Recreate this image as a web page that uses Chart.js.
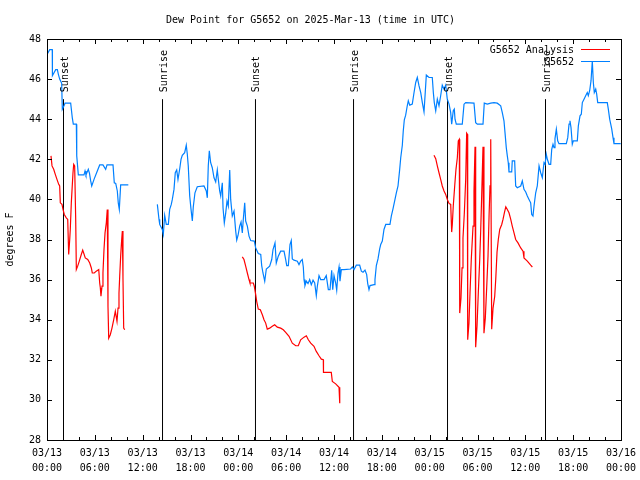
<!DOCTYPE html>
<html>
<head>
<meta charset="utf-8">
<title>Dew Point for G5652</title>
<script src="https://cdn.jsdelivr.net/npm/chart.js@4.4.1/dist/chart.umd.min.js"></script>
<style>
  html, body { margin: 0; padding: 0; background: #fff; }
</style>
</head>
<body>
<canvas id="myChart" width="640" height="480"></canvas>
<script>
// x axis is hours since 2025-03-13 00:00 UTC
const dayLabels  = ['03/13', '03/13', '03/13', '03/13', '03/14', '03/14', '03/14', '03/14', '03/15', '03/15', '03/15', '03/15', '03/16'];
const timeLabels = ['00:00', '06:00', '12:00', '18:00', '00:00', '06:00', '12:00', '18:00', '00:00', '06:00', '12:00', '18:00', '00:00'];

const sunTimes  = [2.07, 14.49, 26.15, 38.45, 50.24, 62.53];
const sunLabels = ['Sunset', 'Sunrise', 'Sunset', 'Sunrise', 'Sunset', 'Sunrise'];
const sunLineTop = 45.0;

// G5652 observations (null = no data)
const obsHours = [
  0.04, 0.34, 0.66, 0.68, 1.09, 1.30, 1.42, 1.59, 1.84, 1.92, 2.13, 2.26, 2.97, 3.17, 3.30, 3.68, 3.73, 3.93,
  4.64, 4.77, 4.89, 5.18, 5.33, 5.48, 5.61, 5.90, 6.31, 6.61, 7.02, 7.36, 7.53, 8.28, 8.44, 8.62, 8.82, 8.94,
  9.07, 9.24, 10.20, 12.00,
  13.84, 14.05, 14.14, 14.46, 14.59, 14.76, 14.96, 15.22, 15.39, 15.59, 15.72, 15.93, 16.09, 16.27, 16.43,
  16.65, 16.81, 16.97, 17.27, 17.47, 17.60, 17.72, 17.90, 18.06, 18.23, 18.35, 18.56, 18.85, 19.69, 19.98,
  20.11, 20.23, 20.36, 20.53, 20.73, 20.95, 21.16, 21.36, 21.49, 21.66, 21.79, 21.99, 22.08, 22.24, 22.42,
  22.58, 22.74, 22.92, 23.04, 23.24, 23.46, 23.67, 23.80, 23.96, 24.17, 24.34, 24.50, 24.62, 24.80, 24.92,
  25.13, 25.34, 25.55, 26.00, 26.18, 26.50, 26.81, 26.93, 27.09, 27.31, 27.51, 27.93, 28.19, 28.35, 28.60,
  28.76, 29.01, 29.31, 29.73, 29.94, 30.07, 30.27, 30.48, 30.64, 30.77, 30.98, 31.40, 31.61, 31.82, 32.02,
  32.15, 32.24, 32.36, 32.53, 32.74, 32.95, 33.15, 33.37, 33.58, 33.78, 33.91, 34.12, 34.33, 34.75, 35.03,
  35.29, 35.50, 35.71, 35.84, 36.00, 36.21, 36.34, 36.50, 36.63, 36.75, 36.92, 37.25, 38.09, 38.30, 38.51,
  38.80, 39.22, 39.43, 39.64, 39.89, 40.10, 40.23, 40.39, 40.52, 41.02, 41.14, 41.31, 41.52, 41.73, 41.86,
  42.06, 42.27, 42.49, 43.02, 43.19, 43.40, 43.65, 43.82, 44.03, 44.24, 44.37, 44.57, 44.69, 44.82, 44.99,
  45.19, 45.32, 45.50, 45.82, 46.04, 46.25, 46.45, 46.66, 46.88, 47.08, 47.29, 47.42, 47.58, 47.92, 48.33,
  48.46, 48.58, 48.76, 48.96, 49.17, 49.38, 49.58, 49.80, 50.01, 50.21, 50.43, 50.64, 50.76, 50.96, 51.09,
  51.18, 51.34, 52.09, 52.31, 52.52, 53.56, 53.77, 53.98, 54.69, 54.85, 55.23, 55.66, 56.07, 56.48, 56.91,
  57.11, 57.32, 57.45, 57.61, 57.74, 57.86, 57.95, 58.29, 58.36, 58.66, 58.79, 58.99, 59.42, 59.62, 59.83,
  60.05, 60.25, 60.46, 60.67, 60.80, 60.96, 61.09, 61.30, 61.50, 61.72, 61.93, 62.13, 62.34, 62.47, 62.63,
  62.76, 62.97, 63.18, 63.31, 63.47, 63.60, 63.72, 63.89, 64.06, 64.22, 65.14, 65.32, 65.48, 65.60, 65.73,
  65.89, 66.02, 66.52, 66.65, 66.86, 67.02, 67.15, 67.36, 67.57, 67.77, 67.90, 68.07, 68.24, 68.40, 68.53,
  68.65, 68.83, 68.95, 69.08, 70.28, 70.41, 70.58, 70.83, 71.00, 71.12, 71.96
];
const obsTemps = [
  47.25, 47.47, 47.47, 46.17, 46.47, 46.47, 46.25, 46.00, 45.80, 44.50, 44.67, 44.80, 44.80, 44.08, 43.75, 43.75, 42.17, 41.22,
  41.22, 41.42, 41.22, 41.50, 41.30, 40.92, 40.67, 41.00, 41.42, 41.72, 41.72, 41.50, 41.72, 41.72, 40.83, 40.80, 40.42, 39.83,
  39.50, 40.72, 40.72, null,
  39.75, 39.00, 38.75, 38.50, 38.25, 39.20, 38.75, 38.75, 39.50, 39.75, 40.00, 40.50, 41.33, 41.47, 41.00,
  41.53, 42.00, 42.20, 42.33, 42.70, 42.25, 41.67, 40.17, 39.53, 38.92, 39.63, 40.33, 40.63, 40.67, 40.42,
  40.08, 41.67, 42.42, 41.83, 41.58, 41.08, 40.87, 41.47, 41.00, 40.42, 40.17, 40.83, 39.58, 38.83, 39.33,
  39.92, 39.67, 41.47, 40.00, 39.17, 39.42, 38.42, 37.97, 38.20, 38.67, 38.87, 38.33, 39.00, 39.83, 38.92,
  38.67, 38.17, 37.95, 37.92, 37.58, 37.30, 37.25, 36.70, 36.33, 35.92, 36.53, 36.67, 37.00, 37.50, 37.83,
  36.83, 37.17, 37.42, 37.42, 37.00, 36.70, 36.70, 37.75, 37.95, 37.03, 36.97, 36.92, 36.75, 36.92, 37.00,
  36.63, 36.00, 35.70, 35.92, 35.80, 36.00, 35.75, 35.97, 35.83, 35.20, 35.67, 36.20, 36.00, 36.00, 36.20,
  35.50, 35.50, 36.47, 35.50, 36.20, 35.83, 35.47, 36.33, 36.63, 35.92, 36.50, 36.50, 36.53, 36.63, 36.50,
  36.72, 36.72, 36.42, 36.37, 36.47, 36.25, 35.80, 35.50, 35.70, 35.75, 36.00, 36.70, 37.03, 37.53, 37.75,
  37.92, 38.50, 38.75, 38.75, 39.17, 39.53, 40.00, 40.33, 40.67, 41.50, 42.08, 42.70, 43.42, 43.97, 44.20,
  44.67, 44.92, 44.70, 44.75, 45.33, 45.83, 46.08, 45.67, 45.33, 44.83, 44.37, 45.17, 46.20, 46.08, 46.08,
  45.33, 44.83, 44.42, 45.00, 44.67, 45.17, 45.70, 45.50, 45.70, 45.00, 44.75, 44.33, 43.75, 44.42, 44.50,
  44.00, 43.75, 43.75, 44.75, 44.83, 44.80, 43.83, 43.75, 43.75, 44.80, 44.75, 44.80, 44.83, 44.80, 44.67,
  44.33, 43.92, 43.33, 42.58, 42.17, 41.83, 41.37, 41.37, 41.92, 41.92, 40.67, 40.58, 40.67, 40.92, 40.50,
  40.37, 40.17, 40.00, 39.83, 39.25, 39.17, 39.67, 40.33, 40.67, 41.67, 41.33, 41.08, 41.83, 41.75, 42.25,
  42.00, 41.75, 41.75, 42.50, 42.75, 42.58, 43.03, 43.50, 42.92, 42.78, 42.78, 43.08, 43.75, 43.92, 43.58,
  42.75, 42.92, 42.92, 43.67, 44.17, 44.25, 44.83, 45.00, 45.17, 45.33, 45.17, 45.42, 45.92, 46.90, 45.83,
  45.33, 45.50, 45.25, 44.83, 44.83, 44.50, 44.00, 43.53, 43.08, 42.78, 42.78
];

// G5652 analysis (null = no data)
const anaHours = [
  0.50, 0.63, 0.84, 1.04, 1.25, 1.47, 1.59, 1.67, 1.88, 2.01, 2.17, 2.42, 2.60, 2.72, 2.85, 2.92, 3.05, 3.26,
  3.35, 3.47, 3.60, 3.68, 3.85, 4.05, 4.30, 4.48, 4.60, 4.80, 5.11, 5.36, 5.56, 5.68, 5.93, 6.18, 6.49, 6.61,
  6.69, 6.77, 6.90, 7.02, 7.15, 7.28, 7.44, 7.56, 7.65, 7.74, 7.94, 8.15, 8.37, 8.57, 8.78, 8.91, 9.03, 9.12,
  9.24, 9.37, 9.45, 9.53, 9.62, 9.75, 15.00,
  24.50, 24.71, 24.92, 25.13, 25.34, 25.46, 25.88, 26.00, 26.18, 26.30, 26.50, 26.76, 27.01, 27.22, 27.43,
  27.63, 27.93, 28.26, 28.56, 28.89, 29.31, 29.64, 29.94, 30.36, 30.77, 31.20, 31.52, 31.82, 32.24, 32.53,
  32.78, 33.08, 33.49, 33.78, 34.12, 34.41, 34.66, 34.68, 35.66, 35.79, 36.21, 36.63, 36.72, 42.00,
  48.54, 48.76, 48.96, 49.17, 49.38, 49.58, 49.80, 50.01, 50.21, 50.43, 50.64, 50.76, 50.84, 50.96, 51.14,
  51.30, 51.47, 51.59, 51.72, 51.77, 51.93, 52.06, 52.18, 52.35, 52.52, 52.64, 52.72, 52.77, 52.93, 53.06,
  53.22, 53.44, 53.56, 53.69, 53.77, 53.94, 54.10, 54.28, 54.40, 54.53, 54.69, 54.81, 54.98, 55.16, 55.32,
  55.45, 55.57, 55.66, 55.78, 55.95, 56.16, 56.29, 56.45, 56.61, 56.79, 57.04, 57.20, 57.37, 57.55, 57.74,
  57.95, 58.17, 58.36, 58.58, 58.79, 59.08, 59.42, 59.71, 59.83, 60.25, 60.67, 60.88
];
const anaTemps = [
  42.17, 41.67, 41.50, 41.25, 41.00, 40.75, 40.67, 39.83, 39.75, 39.50, 39.25, 39.08, 39.00, 37.25, 38.00, 38.50, 39.83, 41.33,
  41.75, 41.67, 39.00, 36.50, 36.67, 36.92, 37.25, 37.47, 37.33, 37.08, 37.00, 36.83, 36.58, 36.33, 36.33, 36.42, 36.50, 35.83,
  35.58, 35.17, 35.67, 36.33, 37.50, 38.33, 38.83, 39.50, 34.67, 33.08, 33.25, 33.58, 34.00, 34.42, 33.92, 34.58, 35.33, 36.17,
  37.17, 38.00, 38.42, 36.08, 33.58, 33.50, null,
  37.13, 37.00, 36.67, 36.33, 36.00, 35.83, 35.83, 35.67, 35.25, 34.92, 34.53, 34.50, 34.25, 34.00, 33.83,
  33.53, 33.58, 33.67, 33.75, 33.63, 33.58, 33.50, 33.37, 33.17, 32.83, 32.70, 32.70, 33.00, 33.13, 33.20,
  33.00, 32.83, 32.67, 32.42, 32.20, 32.03, 32.00, 31.37, 31.37, 30.92, 30.80, 30.63, 29.83, null,
  42.20, 42.03, 41.67, 41.33, 41.00, 40.67, 40.42, 40.25, 40.00, 39.80, 39.75, 38.37, 38.75, 39.67, 40.67,
  41.50, 42.08, 42.92, 43.00, 34.33, 35.08, 36.58, 38.08, 39.33, 41.00, 43.30, 43.25, 33.00, 33.83, 35.33,
  37.00, 38.67, 40.42, 42.63, 32.63, 33.67, 35.33, 37.00, 38.42, 40.25, 42.63, 33.33, 34.08, 35.67, 37.17,
  39.17, 40.67, 43.00, 33.53, 34.58, 35.17, 36.03, 37.37, 38.00, 38.50, 38.75, 39.00, 39.33, 39.63, 39.50,
  39.33, 39.00, 38.67, 38.33, 38.00, 37.83, 37.58, 37.42, 37.08, 36.92, 36.72, 36.63
];

const monoFont = "'DejaVu Sans Mono', 'Liberation Mono', monospace";

function toPoints(hours, temps) {
  return hours.map((h, i) => ({ x: h, y: temps[i] }));
}

function sunLinePoints() {
  const pts = [];
  sunTimes.forEach(t => {
    pts.push({ x: t, y: 28 }, { x: t, y: sunLineTop }, { x: t, y: null });
  });
  return pts;
}

// gnuplot look: frame, inward ticks, legend and sun labels
const gnuFrame = {
  id: 'gnuFrame',
  afterDatasetsDraw(chart) {
    const { ctx, chartArea: a, scales: { x, y } } = chart;
    ctx.save();
    ctx.strokeStyle = '#000';
    ctx.lineWidth = 1;
    ctx.beginPath();
    for (let v = 28; v <= 48; v += 2) {
      const py = Math.round(y.getPixelForValue(v)) + 0.5;
      ctx.moveTo(a.left, py); ctx.lineTo(a.left + 5, py);
      ctx.moveTo(a.right, py); ctx.lineTo(a.right - 5, py);
    }
    for (let h = 0; h <= 72; h += 2) {
      const px = Math.round(x.getPixelForValue(h)) + 0.5;
      const len = h % 6 === 0 ? 5 : 3;
      ctx.moveTo(px, a.bottom); ctx.lineTo(px, a.bottom - len);
      ctx.moveTo(px, a.top); ctx.lineTo(px, a.top + len);
    }
    ctx.stroke();
    ctx.strokeRect(a.left + 0.5, a.top + 0.5, a.right - a.left, a.bottom - a.top);

    ctx.font = '10px ' + monoFont;
    ctx.fillStyle = '#000';

    // sunrise / sunset labels
    ctx.textBaseline = 'middle';
    ctx.textAlign = 'left';
    const labelBottom = y.getPixelForValue(sunLineTop) - 7;
    sunTimes.forEach((t, i) => {
      ctx.save();
      ctx.translate(Math.round(x.getPixelForValue(t)) + 1.5, labelBottom);
      ctx.rotate(-Math.PI / 2);
      ctx.fillText(sunLabels[i], 0, 0);
      ctx.restore();
    });

    // key, top right
    ctx.textAlign = 'right';
    const keySets = [chart.data.datasets[1], chart.data.datasets[2]];
    keySets.forEach((ds, i) => {
      const ky = a.top + 11 + i * 12;
      ctx.fillText(ds.label, a.right - 47, ky);
      ctx.strokeStyle = ds.borderColor;
      ctx.beginPath();
      ctx.moveTo(a.right - 40, ky - 0.5);
      ctx.lineTo(a.right - 11, ky - 0.5);
      ctx.stroke();
    });
    ctx.restore();
  }
};

Chart.defaults.font.family = monoFont;
Chart.defaults.font.size = 10;
Chart.defaults.color = '#000';

new Chart(document.getElementById('myChart'), {
  type: 'line',
  data: {
    datasets: [
      {
        label: 'sun',
        data: sunLinePoints(),
        borderColor: '#000',
        borderWidth: 1,
        pointRadius: 0,
        spanGaps: false,
        order: 3
      },
      {
        label: 'G5652 Analysis',
        data: toPoints(anaHours, anaTemps),
        borderColor: '#ff0000',
        borderWidth: 1.2,
        pointRadius: 0,
        spanGaps: false,
        order: 2
      },
      {
        label: 'G5652',
        data: toPoints(obsHours, obsTemps),
        borderColor: '#0080ff',
        borderWidth: 1.2,
        pointRadius: 0,
        spanGaps: false,
        order: 1
      }
    ]
  },
  options: {
    responsive: false,
    animation: false,
    events: [],
    layout: { padding: { left: 0, right: 19, top: 0, bottom: 0 } },
    plugins: {
      legend: { display: false },
      tooltip: { enabled: false },
      title: {
        display: true,
        text: 'Dew Point for G5652 on 2025-Mar-13 (time in UTC)',
        font: { size: 10, weight: 'normal', lineHeight: 1.2 },
        color: '#000',
        padding: { top: 14, bottom: 13 }
      }
    },
    scales: {
      x: {
        type: 'linear',
        min: 0,
        max: 72,
        grid: { display: false, drawTicks: false },
        border: { display: false },
        ticks: {
          stepSize: 6,
          autoSkip: false,
          maxRotation: 0,
          padding: 6,
          font: { size: 10, lineHeight: 1.5 },
          callback: (v) => {
            const i = Math.round(v / 6);
            return [dayLabels[i], timeLabels[i]];
          }
        },
        afterFit: (scale) => {
          scale.height = 40;
          // end labels may hang past the frame, as in gnuplot
          scale.paddingLeft = 15;
          scale.paddingRight = 15;
        }
      },
      y: {
        min: 28,
        max: 48,
        grid: { display: false, drawTicks: false },
        border: { display: false },
        ticks: { stepSize: 2, padding: 6 },
        title: {
          display: true,
          text: 'degrees F',
          font: { size: 10, lineHeight: 1.2 },
          padding: { top: 4, bottom: 0 }
        },
        afterFit: (scale) => { scale.width = 47; }
      }
    }
  },
  plugins: [gnuFrame]
});
</script>
</body>
</html>
